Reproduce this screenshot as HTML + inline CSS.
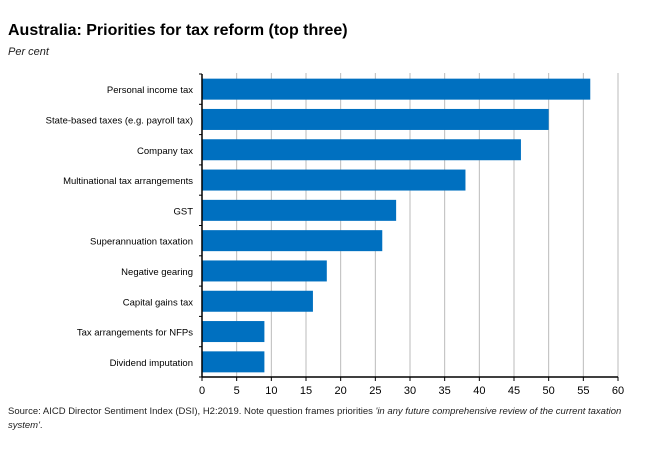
<!DOCTYPE html>
<html><head><meta charset="utf-8"><style>
body{margin:0;background:#fff;}
svg{display:block;font-family:"Liberation Sans",sans-serif;}
</style></head><body>
<svg width="650" height="455">
<text x="8" y="35" font-size="16" font-weight="bold" fill="#000">Australia:  Priorities  for  tax reform  (top three)</text>
<text x="8" y="55" font-size="11" font-style="italic" fill="#222">Per cent</text>
<g id="plot"></g>
<text x="8" y="414" font-size="9.5" fill="#222">Source: AICD Director Sentiment Index (DSI), H2:2019.  Note question frames priorities <tspan font-style="italic">'in any future comprehensive review of the current taxation</tspan></text>
<text x="8" y="428" font-size="9.5" fill="#222" font-style="italic">system'<tspan font-style="normal">.</tspan></text>
</svg>
<script>
const categories=["Personal income tax","State-based taxes (e.g. payroll tax)","Company tax","Multinational tax arrangements","GST","Superannuation taxation","Negative gearing","Capital gains tax","Tax arrangements for NFPs","Dividend imputation"];
const values=[56,50,46,38,28,26,18,16,9,9];
const ticks=[0,5,10,15,20,25,30,35,40,45,50,55,60];
const NS="http://www.w3.org/2000/svg";
const g=document.getElementById('plot');
const x0=202,x1=618,yTop=74,yBot=377;
const xs=v=>x0+(v-0)/(60-0)*(x1-x0);
const rowH=(yBot-yTop)/categories.length;
function mk(t,a){const e=document.createElementNS(NS,t);for(const k in a)e.setAttribute(k,a[k]);g.appendChild(e);return e;}
ticks.forEach(t=>{
 if(t>0){const l=mk('line',{x1:xs(t),x2:xs(t),y1:yTop-1,y2:yBot,stroke:'#bbb','stroke-width':1});
 
 }
 const tk=mk('line',{x1:xs(t),x2:xs(t),y1:yBot,y2:yBot+4,stroke:'#000'});
 
 
 const tx=mk('text',{x:xs(t),y:yBot+17,'font-size':11,'text-anchor':'middle',fill:'#000'});
 tx.textContent=t;
 
 
});
categories.forEach((c,i)=>{
 const yc=yTop+rowH*(i+0.5);
 const b=mk('rect',{x:x0,y:yc-10.5,width:xs(values[i])-x0,height:21,fill:'#0070c0'});
 
 
 const t=mk('text',{x:x0-9,y:yc+4,'font-size':9.5,'text-anchor':'end',fill:'#000'});
 t.textContent=c;
 
 
});
for(let i=0;i<=categories.length;i++){
 const y=yTop+rowH*i;
 const tk=mk('line',{x1:x0-3,x2:x0,y1:y,y2:y,stroke:'#000'});
 
 
}
const ya=mk('line',{x1:x0,x2:x0,y1:yTop,y2:yBot,stroke:'#000','stroke-width':1.5});


const xa=mk('line',{x1:x0,x2:x1,y1:yBot,y2:yBot,stroke:'#000','stroke-width':1.5});


</script>
</body></html>
